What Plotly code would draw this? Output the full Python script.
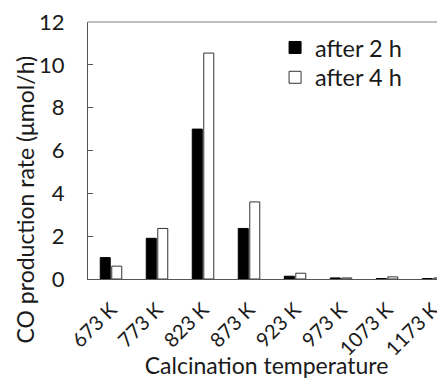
import plotly.graph_objects as go

categories = ["673 K", "773 K", "823 K", "873 K", "923 K", "973 K", "1073 K", "1173 K"]
after_2h = [1.0, 1.9, 7.0, 2.36, 0.13, 0.05, 0.02, 0.02]
after_4h = [0.6, 2.36, 10.55, 3.6, 0.27, 0.05, 0.1, 0.05]
y_ticks = [0, 2, 4, 6, 8, 10, 12]

FONT = "Lato"
TXT = "#1a1a1a"

fig = go.Figure()
fig.add_trace(go.Bar(x=categories, y=after_2h, name="after 2 h", legend="legend",
                     marker=dict(color="black", line=dict(color="black", width=1))))
fig.add_trace(go.Bar(x=categories, y=after_4h, name="after 4 h", legend="legend2",
                     marker=dict(color="white", line=dict(color="#333333", width=1))))

leg_common = dict(xanchor="left", yanchor="middle", bgcolor="rgba(0,0,0,0)",
                  font=dict(size=23.5, family=FONT, color=TXT), itemwidth=30)

fig.update_layout(
    width=437, height=371,
    margin=dict(l=80, r=0, t=14, b=98),
    paper_bgcolor="white", plot_bgcolor="white",
    barmode="group", bargap=0.5, bargroupgap=0.13,
    font=dict(family=FONT, color=TXT, size=20),
    showlegend=True,
    legend=dict(x=0.524, y=0.900, **leg_common),
    legend2=dict(x=0.524, y=0.784, **leg_common),
    xaxis=dict(range=[-0.5, 7.26], showline=True, linecolor="#555555", linewidth=1,
               ticks="outside", ticklen=10, tickcolor="rgba(0,0,0,0)",
               tickangle=-45, tickfont=dict(size=20, family=FONT, color=TXT),
               showgrid=False, zeroline=False, automargin=True,
               title=dict(text="Calcination temperature", standoff=3,
                          font=dict(size=23, family=FONT, color=TXT))),
    yaxis=dict(range=[0, 12.001], tickvals=y_ticks, showline=True, linecolor="#555555", linewidth=1,
               ticks="inside", ticklen=5, tickcolor="#555555", automargin=False,
               ticklabeloverflow="allow",
               showgrid=False, zeroline=False, tickfont=dict(size=22, family=FONT, color=TXT),
               ticklabelstandoff=18),
    annotations=[
        dict(text="CO production rate (μmol/h)", textangle=-90,
             xref="paper", yref="paper", x=-0.176, y=0.31,
             xanchor="center", yanchor="middle", showarrow=False,
             font=dict(size=23, family=FONT, color=TXT)),
    ],
    shapes=[dict(type="line", xref="paper", yref="paper", x0=0, x1=1, y0=1, y1=1,
                 line=dict(color="#aaaaaa", width=1.5))],
)

fig.write_html("out.html")
